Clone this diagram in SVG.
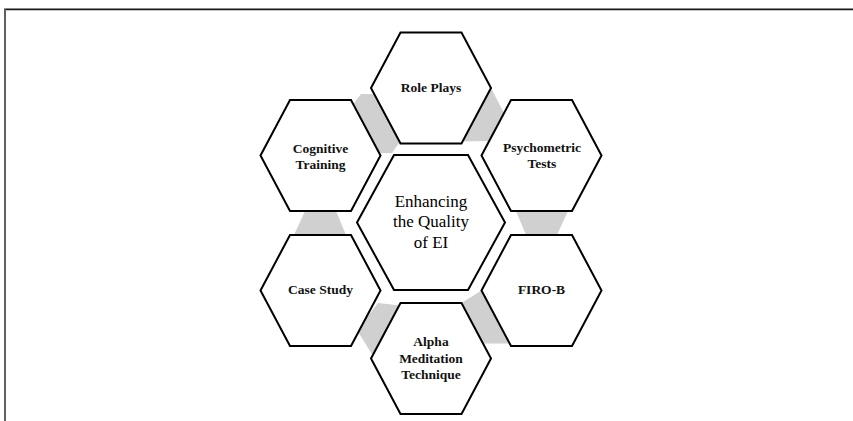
<svg xmlns="http://www.w3.org/2000/svg" width="853" height="421" viewBox="0 0 853 421">
<style>
.hex{fill:#ffffff;stroke:#000000;stroke-width:2;stroke-linejoin:miter}
.conn{fill:#d0d0d0;stroke:none}
.lbl{font-family:"Liberation Serif","Times New Roman",serif;font-weight:bold;font-size:13.5px;fill:#111;text-anchor:middle}
.ctr{font-family:"Liberation Serif","Times New Roman",serif;font-size:17px;fill:#000;text-anchor:middle}
</style>
<rect x="0" y="0" width="853" height="421" fill="#ffffff"/>
<g id="frame">
<line x1="4" y1="8.5" x2="853" y2="8.5" stroke="#8a8a8a" stroke-width="1"/>
<line x1="4" y1="9.6" x2="853" y2="9.6" stroke="#1a1a1a" stroke-width="1.2"/>
<line x1="5" y1="9" x2="5" y2="421" stroke="#606060" stroke-width="2"/>
</g>
<g id="connectors">
<polygon class="conn" points="354,103 361,94 385,94 399,143 392,153 376,153"/>
<polygon class="conn" points="486,88 491,88 504,113 510,113 490,141 460,141.5"/>
<polygon class="conn" points="514.75,208 569.4,208 555.6,238 527.25,238"/>
<polygon class="conn" points="461.5,303 481.5,290.5 495,290 508,343.5 482,343.5"/>
<polygon class="conn" points="378,303 405,306 376,356 373,356 357,330"/>
<polygon class="conn" points="347.25,238 292.6,238 306.4,208 334.75,208"/>
</g>
<g id="role-plays">
<polygon class="hex" points="371,88 400.5,32.5 461.5,32.5 491,88 461.5,143.5 400.5,143.5"/>
<text class="lbl" x="431" y="92">Role Plays</text>
</g>
<g id="cognitive-training">
<polygon class="hex" points="260.5,155.5 290,100 351,100 380.5,155.5 351,211 290,211"/>
<text class="lbl" x="320.5" y="152.7">Cognitive</text>
<text class="lbl" x="320.5" y="168.7">Training</text>
</g>
<g id="psychometric-tests">
<polygon class="hex" points="481.5,155.5 511,100 572,100 601.5,155.5 572,211 511,211"/>
<text class="lbl" x="542" y="152.3">Psychometric</text>
<text class="lbl" x="542" y="167.9">Tests</text>
</g>
<g id="case-study">
<polygon class="hex" points="260.5,290.5 290,235 351,235 380.5,290.5 351,346 290,346"/>
<text class="lbl" x="320.5" y="294">Case Study</text>
</g>
<g id="firo-b">
<polygon class="hex" points="481.5,290.5 511,235 572,235 601.5,290.5 572,346 511,346"/>
<text class="lbl" x="541.5" y="294">FIRO-B</text>
</g>
<g id="alpha-meditation">
<polygon class="hex" points="371,358.5 400.5,303 461.5,303 491,358.5 461.5,414 400.5,414"/>
<text class="lbl" x="431" y="346">Alpha</text>
<text class="lbl" x="431" y="362.5">Meditation</text>
<text class="lbl" x="431" y="378.5">Technique</text>
</g>
<g id="center">
<polygon class="hex" points="357,222.5 394,155 468,155 505,222.5 468,290 394,290"/>
<text class="ctr" x="431" y="206.7">Enhancing</text>
<text class="ctr" x="431" y="227.3">the Quality</text>
<text class="ctr" x="431" y="247.5">of EI</text>
</g>
</svg>
